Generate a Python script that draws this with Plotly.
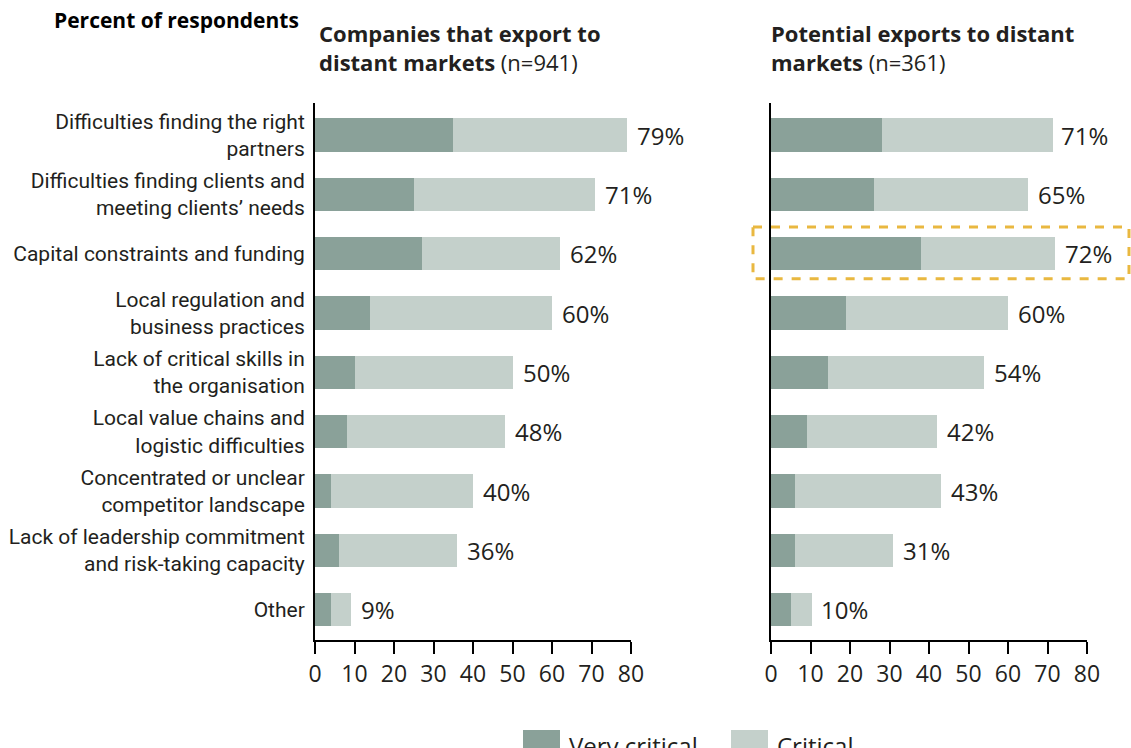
import plotly.graph_objects as go

# categorías (con salto de línea para las etiquetas del eje)
categories = [
    "Difficulties finding the right<br>partners",
    "Difficulties finding clients and<br>meeting clients’ needs",
    "Capital constraints and funding",
    "Local regulation and<br>business practices",
    "Lack of critical skills in<br>the organisation",
    "Local value chains and<br>logistic difficulties",
    "Concentrated or unclear<br>competitor landscape",
    "Lack of leadership commitment<br>and risk-taking capacity",
    "Other",
]

# Companies that export to distant markets (n=941)
export_very = [35, 25, 27, 14, 10, 8, 4, 6, 4]
export_crit = [44, 46, 35, 46, 40, 40, 36, 30, 5]
export_total = [79, 71, 62, 60, 50, 48, 40, 36, 9]

# Potential exports to distant markets (n=361)
potential_very = [28, 26, 38, 19, 14.5, 9, 6, 6, 5]
potential_crit = [43.5, 39, 34, 41, 39.5, 33, 37, 25, 5.5]
potential_total = [71, 65, 72, 60, 54, 42, 43, 31, 10]

x_ticks = [0, 10, 20, 30, 40, 50, 60, 70, 80]

W, H = 1131, 748
DARK = "#8AA199"
LIGHT = "#C4D0CB"
TEXT = "#231F20"
LABEL_FONT = "Roboto"
MAIN_FONT = "Open Sans"


def px_x(x):
    return x / W


def px_y(y):
    return (H - y) / H


fig = go.Figure()

panels = [
    ("x", "y", export_very, export_crit, export_total),
    ("x2", "y2", potential_very, potential_crit, potential_total),
]
for xa, ya, very, crit, total in panels:
    fig.add_trace(go.Bar(
        y=categories, x=very, orientation="h", xaxis=xa, yaxis=ya,
        marker=dict(color=DARK, line_width=0), name="Very critical",
        showlegend=False, hoverinfo="x+y",
    ))
    fig.add_trace(go.Bar(
        y=categories, x=crit, orientation="h", xaxis=xa, yaxis=ya,
        marker=dict(color=LIGHT, line_width=0), name="Critical",
        showlegend=False, hoverinfo="x+y",
    ))
    for cat, t in zip(categories, total):
        fig.add_annotation(
            x=t, y=cat, xref=xa, yref=ya, text=f"{t}%", showarrow=False,
            xanchor="left", yanchor="middle", xshift=8,
            font=dict(family=MAIN_FONT, size=24, color=TEXT),
        )

y_dom = [px_y(640), px_y(103)]
xaxis_style = dict(
    range=[0, 80], tickvals=x_ticks, showgrid=False, zeroline=False,
    showline=True, linecolor="black", linewidth=2,
    ticks="outside", ticklen=12, tickwidth=2, tickcolor="black",
    tickfont=dict(family=MAIN_FONT, size=23, color=TEXT),
    fixedrange=True, automargin=False,
)
yaxis_style = dict(
    type="category", range=[8.51, -0.54], showgrid=False, zeroline=False,
    showline=True, linecolor="black", linewidth=2, ticks="",
    domain=y_dom, fixedrange=True, automargin=False,
)

fig.update_layout(
    width=W, height=H,
    barmode="stack", bargap=0.44,
    plot_bgcolor="white", paper_bgcolor="white",
    margin=dict(l=0, r=0, t=0, b=0, autoexpand=False),
    xaxis=dict(xaxis_style, domain=[px_x(315), px_x(631)], anchor="y"),
    xaxis2=dict(xaxis_style, domain=[px_x(771), px_x(1087)], anchor="y2"),
    yaxis=dict(yaxis_style, anchor="x", ticklabelstandoff=4,
               tickfont=dict(family=LABEL_FONT, size=21, color=TEXT)),
    yaxis2=dict(yaxis_style, anchor="x2", showticklabels=False),
)

# títulos
fig.add_annotation(
    x=px_x(52), y=px_y(20), xref="paper", yref="paper",
    xanchor="left", yanchor="middle", showarrow=False,
    text="<b>Percent of respondents</b>",
    font=dict(family=MAIN_FONT, size=21, color="black"),
)
panel_titles = [
    (317, "<b>Companies that export to<br>distant markets</b> (n=941)"),
    (769, "<b>Potential exports to distant<br>markets</b> (n=361)"),
]
for x, txt in panel_titles:
    fig.add_annotation(
        x=px_x(x), y=px_y(16), xref="paper", yref="paper",
        xanchor="left", yanchor="top", showarrow=False, align="left",
        text=txt, font=dict(family=MAIN_FONT, size=22, color=TEXT),
    )

# recuadro destacado (Capital constraints, panel derecho)
fig.add_shape(
    type="rect", xref="paper", yref="y2",
    x0=px_x(753), x1=px_x(1129), y0=2 - 0.45, y1=2 + 0.42,
    line=dict(color="#E9B840", width=3, dash="dash"),
)

# leyenda (cortada en la parte inferior, como en el original)
legend_items = [("Very critical", DARK, 523), ("Critical", LIGHT, 731)]
for label, color, x0 in legend_items:
    fig.add_shape(
        type="rect", xref="paper", yref="paper", line_width=0,
        x0=px_x(x0), x1=px_x(x0 + 37), y0=px_y(760), y1=px_y(730),
        fillcolor=color,
    )
    fig.add_annotation(
        x=px_x(x0 + 44), y=px_y(727), xref="paper", yref="paper",
        xanchor="left", yanchor="top", showarrow=False, text=label,
        font=dict(family=MAIN_FONT, size=24, color=TEXT),
    )

# sin margen del <body> para que la figura ocupe la ventana exacta
fig.write_html(
    "out.html",
    config={"displayModeBar": False},
    post_script="document.body.style.margin='0';",
)
